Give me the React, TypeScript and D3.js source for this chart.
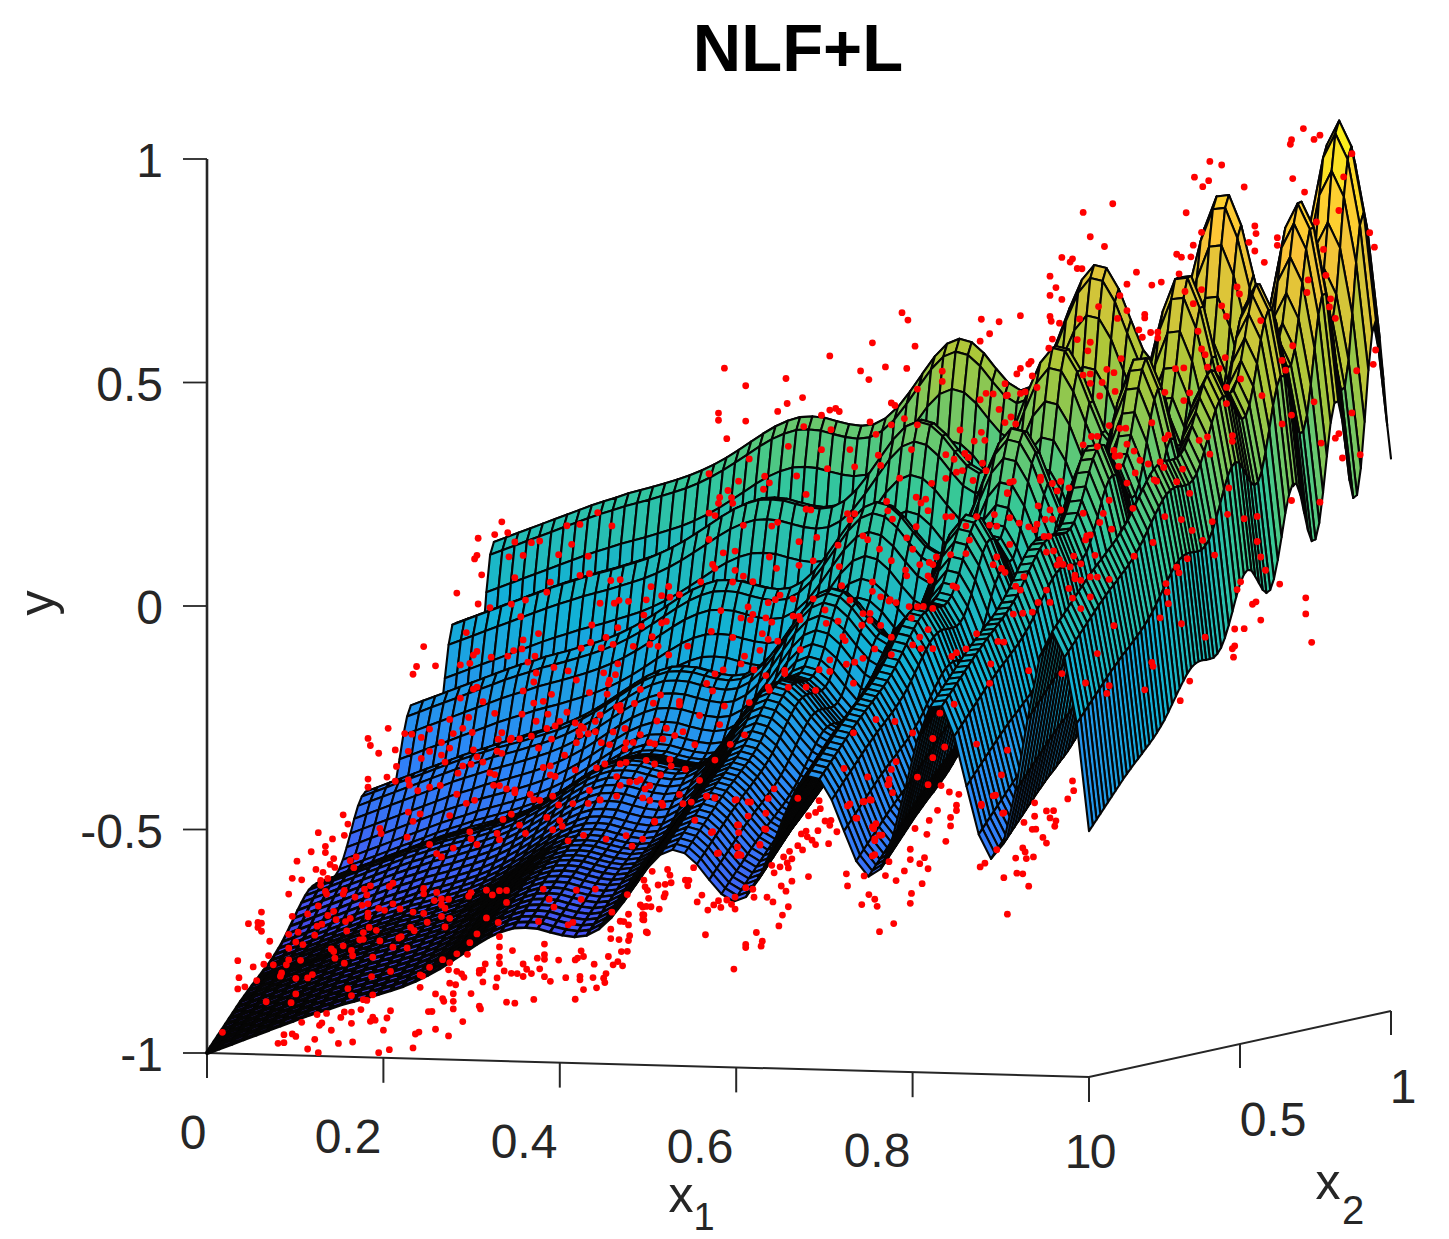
import React, { useEffect, useRef } from "react";
import * as d3 from "d3";

const width = 1449;
const height = 1239;

// Surface heights: read along the two front edges of the mesh (x2 = 0 and x1 = 0).
// The crests in the picture line up with the sum of both, so each mesh node is
// x1Profile[i] + x2Profile[j]. That is an approximation of the original surface.
const x1Profile = [
  0, 0.011, 0.022, 0.033, 0.044, 0.055, 0.066, 0.077, 0.088, 0.098, 0.107, 0.117, 0.125, 0.133, 0.142, 0.151,
  0.161, 0.173, 0.187, 0.203, 0.221, 0.24, 0.259, 0.276, 0.289, 0.298, 0.3, 0.298, 0.291, 0.285, 0.282, 0.286,
  0.301, 0.327, 0.363, 0.403, 0.442, 0.471, 0.483, 0.476, 0.452, 0.418, 0.387, 0.371, 0.382, 0.421, 0.485,
  0.558, 0.622, 0.656, 0.65, 0.604, 0.535, 0.469, 0.435, 0.453, 0.527, 0.634, 0.745, 0.817, 0.821, 0.754,
  0.643, 0.536, 0.482, 0.516, 0.636, 0.798, 0.939, 0.994, 0.937, 0.79, 0.55,
];
const x2Profile = [
  -1, -0.989, -0.978, -0.967, -0.956, -0.945, -0.934, -0.923, -0.912, -0.901, -0.891, -0.881, -0.871, -0.862,
  -0.853, -0.843, -0.834, -0.824, -0.813, -0.801, -0.788, -0.773, -0.757, -0.741, -0.725, -0.71, -0.696, -0.685,
  -0.678, -0.674, -0.673, -0.674, -0.674, -0.673, -0.666, -0.654, -0.634, -0.608, -0.579, -0.548, -0.521, -0.502,
  -0.493, -0.496, -0.511, -0.528, -0.545, -0.554, -0.549, -0.526, -0.486, -0.437, -0.385, -0.345, -0.322, -0.325,
  -0.351, -0.393, -0.434, -0.46, -0.458, -0.423, -0.357, -0.278, -0.205, -0.162, -0.16, -0.201, -0.269, -0.342,
  -0.384, -0.379, -0.321, -0.219, -0.106, -0.024, 0.003, -0.038, -0.133, -0.238, -0.314,
];

// Red samples as [t, y]. A flat picture gives no depth for them, so they are
// placed on the diagonal plane x1 = x2 = t of the box.
const dots: [number, number][] = [
  [.013,-.955],[.06,-.984],[.065,-.983],[.065,-.965],[.072,-.964],[.075,-.97],[.085,-.999],[.091,-.978],[.094,-1.008],[.095,-.947],[.097,-.942],[.105,-.959],[.111,-.989],[.123,-.987],[.113,-.931],[.116,-.919],[.122,-.92],[.122,-.945],[.13,-.915],[.093,-.923],[.101,-.921],[.08,-.939],[.138,-.942],[.14,-.933],[.142,-.94],[.149,-.963],[.152,-.936],[.155,-.92],[.145,-1.013],[.154,-1.007],[.174,-1.005],[.176,-.974],[.179,-.97],[.187,-.925],[.19,-.925],[.193,-.965],[.204,-.981],[.216,-.95],[.208,-.921],[.208,-.904],[.199,-.897],[.2,-.903],[.193,-.886],[.208,-.887],[.223,-.888],[.23,-.917],[.231,-.923],[.253,-.91],[.26,-.913],[.276,-.906],[.311,-.909],[.318,-.888],[.329,-.885],[.336,-.874],[.335,-.864],[.326,-.862],[.315,-.858],[.315,-.866],[.303,-.86],[.29,-.867],[.285,-.856],[.281,-.838],[.274,-.848],[.27,-.838],[.267,-.854],[.267,-.826],[.262,-.847],[.257,-.846],[.251,-.84],[.245,-.855],[.244,-.875],[.247,-.823],[.247,-.808],[.247,-.786],[.258,-.795],[.235,-.823],[.233,-.836],[.23,-.837],[.23,-.843],[.233,-.863],[.217,-.851],[.215,-.843],[.211,-.837],[.21,-.867],[.205,-.863],[.204,-.833],[.205,-.817],[.199,-.81],[.211,-.798],[.22,-.8],[.222,-.774],[.188,-.826],[.18,-.842],[.182,-.845],[.18,-.87],[.135,-.895],[.132,-.893],[.14,-.883],[.279,-.814],[.285,-.807],[.285,-.817],[.297,-.82],[.311,-.821],[.316,-.801],[.313,-.817],[.318,-.814],[.327,-.832],[.339,-.816],[.343,-.835],[.347,-.828],[.351,-.838],[.337,-.854],[.35,-.806],[.355,-.806],[.356,-.782],[.357,-.771],[.341,-.776],[.348,-.779],[.341,-.755],[.342,-.717],[.355,-.679],[.356,-.723],[.371,-.764],[.368,-.736],[.368,-.725],[.366,-.703],[.371,-.707],[.349,-.738],[.352,-.739],[.356,-.747],[.285,-.783],[.247,-.763],
  [.046,-.689],[.035,-.714],[.043,-.712],[.046,-.714],[.043,-.723],[.046,-.732],[.053,-.755],[.052,-.787],[.026,-.796],[.039,-.811],[.048,-.806],[.027,-.834],[.026,-.859],[.032,-.855],[.042,-.842],[.069,-.651],[.072,-.701],[.094,-.68],[.1,-.648],[.101,-.654],[.096,-.634],
  [.05,-.89],[.071,-.894],[.075,-.875],[.062,-.834],[.063,-.827],[.067,-.809],[.069,-.798],[.079,-.8],[.056,-.808],[.069,-.772],[.081,-.765],[.075,-.759],[.077,-.737],[.069,-.741],[.091,-.745],[.093,-.725],[.097,-.721],[.085,-.697],[.102,-.702],[.107,-.693],[.109,-.712],[.117,-.717],[.121,-.71],[.118,-.738],[.105,-.777],[.107,-.783],[.108,-.798],[.115,-.771],[.116,-.81],[.122,-.782],[.123,-.794],[.14,-.799],[.155,-.832],[.139,-.842],[.089,-.833],[.085,-.84],[.075,-.84],[.119,-.867],[.122,-.883],[.129,-.759],[.132,-.758],[.132,-.743],[.137,-.732],[.143,-.739],[.146,-.763],[.157,-.778],[.164,-.755],[.162,-.758],[.169,-.781],[.186,-.725],[.175,-.743],[.172,-.735],[.163,-.693],[.157,-.681],[.15,-.695],[.145,-.69],[.131,-.682],[.136,-.679],[.136,-.7],[.136,-.708],[.125,-.663],[.116,-.647],[.115,-.655],[.133,-.646],[.138,-.639],[.135,-.659],[.154,-.642],[.157,-.635],[.174,-.701],[.183,-.705],[.183,-.661],[.183,-.649],[.194,-.659],[.192,-.677],[.198,-.674],[.204,-.675],[.198,-.687],[.201,-.695],[.198,-.713],[.205,-.718],[.201,-.737],[.221,-.67],[.223,-.662],[.236,-.658],[.241,-.669],[.247,-.66],[.253,-.66],[.253,-.687],[.236,-.72],[.246,-.731],[.228,-.755],[.28,-.732],[.289,-.683],[.293,-.701],[.305,-.742],[.309,-.737],[.316,-.686],[.312,-.665],[.328,-.664],[.284,-.66],
  [.249,.165],[.229,.13],[.243,.137],[.254,.14],[.228,.092],[.226,.084],[.232,.048],[.211,.009],[.229,-.017],[.183,-.108],[.177,-.152],[.193,-.152],[.174,-.169],[.153,-.288],[.136,-.309],[.138,-.325],[.145,-.343],[.159,-.337],[.16,-.374],[.136,-.4],[.136,-.418],[.152,-.397],[.159,-.407],[.17,-.405],[.171,-.417],[.115,-.478],[.119,-.499],[.116,-.524],[.094,-.516],[.106,-.531],[.1,-.547],[.1,-.561],[.088,-.558],[.076,-.578],[.107,-.575],[.104,-.588],[.108,-.595],[.092,-.598],[.098,-.605],[.072,-.616],[.08,-.62],[.102,-.619],[.096,-.623],
  [.26,.119],[.274,.116],[.281,.119],[.304,.151],[.315,.153],[.33,.178],[.342,.147],[.308,.109],[.297,.087],[.322,.081],[.267,.088],[.255,.086],[.26,.039],[.29,.026],[.315,.039],[.323,.042],[.341,.025],[.349,.026],[.375,.008],[.39,.007],[.399,-.012],[.384,-.013],[.391,-.017],[.287,.004],[.269,-.012],[.257,-.02],[.239,-.026],[.265,-.049],[.332,-.025],[.344,-.026],[.348,-.02],[.356,-.023],[.371,-.021],[.369,-.055],[.28,-.088],[.219,-.08],[.325,-.073],[.347,-.081],[.367,-.08],[.384,-.074],[.388,-.071],[.376,-.104],[.337,-.102],[.316,-.124],[.343,-.118],[.333,-.125],[.324,-.112],[.267,-.101],[.266,-.121],[.259,-.124],[.228,-.123],[.225,-.131],[.24,-.137],[.254,-.136],[.277,-.138],[.36,-.124],[.374,-.121],[.381,-.126],[.39,-.146],[.406,-.128],[.271,-.151],[.293,-.165],[.305,-.174],[.278,-.176],[.335,-.181],[.347,-.162],[.345,-.186],[.34,-.198],[.339,-.206],[.312,-.195],[.276,-.196],[.214,-.152],[.222,-.149],[.228,-.203],[.225,-.207],[.214,-.226],[.267,-.215],[.291,-.225],[.284,-.24],[.323,-.224],[.338,-.229],[.346,-.258],[.349,-.266],[.377,-.253],[.361,-.252],[.399,-.251],[.276,-.243],[.233,-.236],[.221,-.27],[.205,-.273],[.243,-.263],[.266,-.267],[.288,-.269],[.304,-.266],[.278,-.284],[.311,-.291],[.328,-.289],[.316,-.299],[.298,-.286],[.294,-.296],[.287,-.301],[.343,-.314],[.353,-.307],[.36,-.339],[.354,-.339],[.38,-.293],[.388,-.31],[.402,-.319],[.318,-.303],[.314,-.311],[.224,-.304],[.216,-.294],[.208,-.305],[.188,-.293],[.181,-.311],[.167,-.301],[.173,-.303],[.249,-.307],[.246,-.321],[.264,-.322],[.274,-.317],[.256,-.323],[.291,-.325],[.28,-.344],[.312,-.335],[.328,-.312],[.333,-.337],[.322,-.316],[.385,-.334],[.395,-.327],[.374,-.341],[.17,-.341],[.181,-.358],[.188,-.343],[.198,-.324],[.205,-.337],[.225,-.343],[.245,-.348],[.249,-.353],[.257,-.32],[.284,-.388],[.29,-.385],[.294,-.409],[.228,-.359],[.233,-.371],[.198,-.352],[.201,-.368],[.239,-.396],[.216,-.378],[.212,-.394],[.223,-.375],[.178,-.43],[.188,-.423],[.197,-.42],[.211,-.441],[.219,-.462],[.247,-.425],[.242,-.424],[.253,-.433],[.26,-.442],[.276,-.459],[.273,-.447],[.292,-.453],[.309,-.471],[.322,-.472],[.329,-.393],[.336,-.385],[.349,-.386],[.354,-.383],[.371,-.38],[.378,-.389],[.392,-.395],[.363,-.427],[.37,-.444],[.374,-.437],[.357,-.427],[.346,-.414],[.332,-.465],[.346,-.458],[.368,-.464],[.384,-.477],[.378,-.517],[.368,-.556],[.354,-.547],[.337,-.553],[.359,-.571],[.305,-.554],[.297,-.473],[.287,-.5],[.292,-.528],[.3,-.521],[.318,-.543],[.269,-.534],[.25,-.501],[.245,-.532],[.257,-.49],[.222,-.526],[.223,-.542],[.228,-.555],[.198,-.58],[.194,-.572],[.208,-.561],[.188,-.551],[.169,-.533],[.18,-.482],[.17,-.477],[.174,-.498],[.146,-.511],[.147,-.523],[.126,-.573],[.121,-.581],[.124,-.597],
  [.376,-.629],[.389,-.626],[.391,-.639],[.392,-.656],[.387,-.659],[.381,-.66],[.369,-.648],[.37,-.663],[.372,-.671],[.373,-.689],[.368,-.708],[.375,-.708],[.382,-.714],[.386,-.687],[.387,-.68],[.369,-.726],[.369,-.737],[.372,-.766],[.404,-.651],[.407,-.652],[.406,-.664],[.418,-.686],[.414,-.701],[.423,-.72],[.428,-.709],[.432,-.7],[.434,-.715],[.439,-.699],[.443,-.709],[.446,-.72],[.446,-.693],[.455,-.673],[.461,-.677],[.462,-.695],[.473,-.696],[.478,-.707],[.491,-.719],[.486,-.737],[.483,-.761],[.464,-.774],[.469,-.794],[.468,-.805],[.455,-.8],[.455,-.807],[.421,-.775],[.445,-.854],[.489,-.684],[.485,-.672],[.494,-.662],[.479,-.642],[.477,-.625],[.484,-.629],[.491,-.632],[.49,-.621],[.487,-.607],[.494,-.612],[.492,-.595],[.503,-.593],[.499,-.583],[.508,-.653],[.514,-.582],[.511,-.572],[.507,-.564],[.502,-.557],[.506,-.551],[.516,-.551],[.525,-.581],[.532,-.555],[.526,-.54],[.522,-.53],[.527,-.529],[.514,-.51],[.508,-.517],[.518,-.502],[.517,-.484],[.54,-.65],[.541,-.677],[.555,-.656],[.559,-.698],[.564,-.709],[.553,-.72],[.566,-.725],[.573,-.657],[.582,-.669],[.576,-.626],[.589,-.648],[.594,-.623],[.594,-.6],[.602,-.633],[.606,-.62],[.609,-.645],[.604,-.678],[.595,-.699],[.594,-.721],[.58,-.765],[.568,-.782],[.624,-.585],[.608,-.568],[.61,-.537],[.598,-.554],[.617,-.515],[.628,-.551],[.628,-.532],[.633,-.505],[.633,-.517],[.62,-.46],[.627,-.475],[.635,-.481],[.653,-.645],[.657,-.637],[.667,-.608],[.673,-.671],[.684,-.662],[.689,-.664],[.694,-.692],[.676,-.753],[.683,-.628],[.692,-.63],[.689,-.606],[.691,-.615],[.698,-.627],[.706,-.584],[.709,-.597],[.697,-.565],[.7,-.565],[.69,-.549],[.699,-.536],[.709,-.525],[.715,-.525],[.712,-.541],[.717,-.548],[.716,-.56],[.699,-.506],[.727,-.5],[.732,-.482],[.731,-.46],
  [.412,-.518],[.427,-.545],[.432,-.593],[.448,-.581],[.449,-.597],[.451,-.6],[.449,-.549],[.449,-.532],[.457,-.513],[.472,-.508],[.474,-.475],[.459,-.482],[.447,-.475],[.429,-.469],[.422,-.465],[.409,-.477],[.402,-.48],[.385,-.482],[.378,-.519],[.411,-.624],[.472,-.544],[.467,-.579],[.543,-.494],[.555,-.49],[.561,-.487],[.549,-.526],[.565,-.54],[.563,-.551],[.564,-.574],[.57,-.566],[.564,-.609],[.576,-.453],[.579,-.472],[.654,-.505],[.666,-.486],[.673,-.526],
  [.437,.491],[.455,.45],[.489,.463],[.503,.419],[.49,.407],[.482,.39],[.432,.391],[.432,.375],[.455,.371],[.439,.333],[.526,.51],[.552,.474],[.559,.454],[.573,.481],[.591,.476],[.562,.536],[.587,.601],[.592,.584],[.654,.58],[.669,.573],[.687,.585],[.661,.547],[.653,.531],[.598,.525],[.519,.378],[.526,.389],[.531,.392],[.534,.385],[.527,.345],[.504,.354],[.491,.311],[.424,.256],[.458,.286],[.519,.301],[.543,.299],[.524,.258],[.547,.26],[.449,.237],[.471,.246],[.475,.231],[.498,.244],[.506,.202],[.47,.217],[.44,.217],[.433,.202],[.432,.189],[.443,.201],[.444,.188],[.424,.168],[.429,.162],[.506,.169],[.51,.167],[.482,.142],[.453,.138],[.477,.134],[.541,.156],[.547,.155],[.543,.142],[.56,.359],[.565,.331],[.578,.4],[.581,.394],[.578,.351],[.6,.349],[.589,.364],[.567,.284],[.569,.261],[.585,.231],[.595,.294],[.599,.187],[.607,.182],[.603,.174],[.612,.217],[.624,.28],[.624,.227],[.631,.269],[.64,.281],[.643,.272],[.636,.334],[.621,.467],[.621,.444],[.6,.429],[.653,.4],[.658,.414],[.664,.412],[.675,.407],[.669,.377],[.679,.359],[.674,.347],[.683,.343],[.654,.327],[.648,.308],[.657,.309],
  [.575,.159],[.574,.18],[.579,.14],[.599,.121],[.609,.156],[.596,.071],[.591,.097],[.568,.074],[.578,.047],[.602,.036],[.61,.04],[.616,.052],[.624,.141],[.629,.141],[.641,.119],[.65,.139],[.665,.142],[.667,.116],[.678,.213],[.676,.188],[.655,.258],[.658,.241],[.633,.24],[.638,.243],[.647,.22],[.674,.012],[.671,.021],[.667,.047],[.664,.03],[.641,.057],[.63,-.014],[.633,-.018],[.613,.035],[.609,.01],[.591,.012],[.6,-.058],[.593,-.057],[.605,-.058],[.613,-.063],[.609,-.11],[.602,-.126],[.595,-.083],[.582,-.047],[.576,-.043],[.569,-.033],[.562,-.02],[.536,-.005],[.562,.001],[.512,.053],[.5,.044],[.481,.039],[.475,.065],[.453,.024],[.446,.038],[.444,.012],[.461,.011],[.436,.078],[.446,.081],[.424,.109],[.429,.044],[.417,.015],[.427,.053],[.5,.097],[.515,.105],[.533,.086],[.554,.105],[.558,.096],[.534,.038],[.512,-.032],[.495,-.031],[.484,-.021],[.474,-.037],[.472,-.071],[.477,-.081],[.461,-.062],[.457,-.045],[.451,-.069],[.469,-.106],[.474,-.119],[.444,-.112],[.482,-.124],[.495,-.069],[.5,-.07],[.426,-.097],[.434,-.051],[.523,-.088],[.533,-.084],[.537,-.119],[.554,-.069],[.553,-.095],[.56,-.069],[.578,-.124],[.569,-.097],[.454,-.155],[.451,-.172],[.436,-.184],[.429,-.192],[.462,-.186],[.472,-.2],[.488,-.197],[.517,-.191],[.526,-.196],[.506,-.229],[.491,-.228],[.474,-.226],[.458,-.259],[.437,-.265],[.427,-.23],[.422,-.213],[.546,-.224],[.54,-.181],[.547,-.177],[.554,-.169],[.564,-.149],[.578,-.163],[.596,-.143],[.603,-.152],[.613,-.153],[.629,-.172],[.633,-.164],[.641,-.156],[.65,-.123],[.668,-.142],[.661,-.235],[.662,-.192],[.631,-.279],[.65,-.37],[.676,-.386],[.671,-.441],[.654,-.508],[.664,-.487],[.672,-.527],
  [.546,-.335],[.538,-.414],[.558,-.435],[.578,-.42],[.582,-.403],[.576,-.442],[.575,-.454],[.619,-.298],[.623,-.374],[.613,-.354],[.609,-.457],[.6,-.439],[.613,-.397],[.596,-.34],[.565,-.307],[.581,-.313],[.541,-.498],[.548,-.526],[.554,-.49],[.56,-.486],[.562,-.547],[.562,-.612],[.564,-.578],[.568,-.566],[.499,-.477],[.467,-.577],[.448,-.6],[.431,-.594],[.426,-.547],[.471,-.543],[.457,-.481],[.446,-.476],[.422,-.465],[.429,-.47],[.479,-.454],[.448,-.532],
  [.926,.981],[.94,.965],[.935,.956],[.916,.957],[.915,.947],[.917,.87],[.927,.839],[.967,.921],[.96,.87],[.956,.795],[.937,.771],[.847,.915],[.857,.906],[.834,.881],[.846,.872],[.841,.859],[.876,.855],[.827,.802],[.74,.811],[.765,.828],[.746,.756],[.758,.733],[.885,.767],[.886,.75],[.84,.757],[.833,.729],[.88,.731],[.885,.711],[.904,.739],[.904,.722],[.893,.685],[.982,.743],[.986,.71],[.943,.709],[.819,.71],[.823,.703],[.831,.703],[.722,.712],[.731,.708],[.729,.701],[.735,.686],[.739,.685],[.712,.671],[.785,.673],[.806,.649],[.798,.643],[.777,.647],[.717,.645],[.712,.628],[.722,.618],[.821,.666],[.826,.626],[.833,.598],[.84,.629],[.87,.632],[.872,.616],[.93,.642],[.929,.614],[.945,.651],[.949,.598],[.948,.58],[.953,.554],[.857,.591],[.861,.567],[.89,.555],[.771,.622],[.753,.599],[.737,.573],[.777,.588],[.769,.571],[.712,.581],[.713,.57],[.72,.565],[.792,.578],[.792,.57],[.837,.536],[.797,.537],[.803,.537],[.803,.524],[.787,.544],[.79,.527],[.714,.53],[.711,.51],[.735,.527],[.746,.52],[.744,.501],[.772,.481],[.76,.458],[.766,.45],[.74,.447],[.746,.449],[.756,.429],[.746,.428],[.767,.408],[.754,.399],[.696,.482],[.687,.467],[.694,.476],[.684,.455],[.697,.449],[.701,.423],[.687,.411],[.691,.414],[.674,.434],[.676,.408],
  [.84,.496],[.843,.483],[.86,.475],[.855,.451],[.845,.455],[.825,.455],[.818,.454],[.809,.402],[.825,.382],[.83,.399],[.861,.408],[.873,.426],[.861,.372],[.891,.387],[.917,.496],[.908,.464],[.911,.442],[.987,.48],[.985,.448],[.971,.435],[.967,.341],[.935,.369],[.916,.341],[.908,.322],[.953,.286],[.956,.296],[.959,.241],[.974,.247],[.941,.276],[.916,.15],[.94,.144],[.866,.3],[.866,.287],[.847,.26],[.838,.292],[.845,.299],[.876,.113],[.887,.117],[.863,.183],[.862,.124],[.849,.109],[.841,.068],[.851,.034],[.828,.028],[.894,-.004],[.89,.026],[.887,.061],[.906,-.036],[.928,-.069],[.928,-.105],[.933,-.169],[.89,-.115],[.886,-.074],[.883,-.079],[.868,-.133],[.876,-.133],[.868,-.171],[.866,-.177],[.867,-.196],[.87,-.045],[.873,-.028],[.83,-.246],[.822,-.289],[.81,-.026],[.811,-.045],[.812,-.071],[.805,-.102],[.823,-.117],[.843,-.149],[.799,.067],[.783,.038],[.819,.01],[.821,-.003],[.832,.091],[.823,.116],[.809,.124],[.782,.145],[.762,-.012],[.766,-.116],[.752,-.177],[.798,-.201],[.799,-.21],[.742,-.242],[.762,-.25],[.76,-.267],[.792,-.262],[.694,-.21],[.722,-.219],[.673,-.144],[.746,-.05],[.738,-.075],[.731,-.051],[.728,-.029],[.733,-.008],[.738,-.012],[.746,-.005],[.752,-.006],[.709,-.031],[.702,-.058],[.712,-.059],[.697,-.079],[.689,-.081],[.681,-.082],[.687,-.029],[.683,-.02],[.69,.001],[.718,.024],[.729,.019],[.738,.025],[.75,.043],[.732,.043],[.766,.276],[.767,.263],[.771,.264],[.8,.207],[.802,.204],[.819,.201],[.83,.174],[.784,.224],[.777,.202],[.754,.116],[.746,.089],[.743,.087],[.74,.138],[.764,.1],[.723,.025],[.709,.054],[.715,.056],[.702,.158],[.678,.134],[.686,.121],[.694,.112],[.701,.117],[.708,.127],[.714,.127],[.707,.089],[.711,.089],[.721,.147],[.718,.19],[.714,.207],[.721,.211],[.728,.196],[.704,.222],[.681,.215],[.676,.19],[.74,.291],[.752,.286],[.747,.309],[.752,.309],[.762,.332],[.776,.325],[.771,.325],[.798,.335],[.812,.306],[.809,.298],[.805,.247],[.808,.234],[.795,.243],[.788,.252],[.783,.273],[.77,.24],[.762,.165],[.757,.136],[.777,.289],[.824,.229],
  [.34,-.342],[.353,-.353],[.366,-.322],[.378,-.344],[.391,-.38],[.404,-.403],[.412,-.349],[.383,-.414],[.366,-.423],[.349,-.434],[.332,-.465],[.374,-.47],[.399,-.459],[.416,-.429],[.429,-.385],[.442,-.351],[.454,-.331],[.433,-.306],[.416,-.284],[.399,-.259],[.383,-.235],[.366,-.221],[.349,-.255],[.332,-.275],[.315,-.318],[.302,-.362],[.29,-.405],[.311,-.396],[.323,-.443],[.281,-.461],[.26,-.436],[.243,-.4],[.226,-.456],[.205,-.488],[.264,-.515],[.247,-.546],[.298,-.508],
  [.475,-.233],[.488,-.19],[.501,-.145],[.514,-.237],[.526,-.17],[.539,-.128],[.467,-.143],[.459,-.074],[.48,-.031],[.501,-.078],[.522,-.058],[.543,-.038],[.56,-.085],[.577,-.04],[.59,.025],[.611,0],[.628,.056],[.644,.087],[.661,.119],[.678,.074],[.699,.105],[.712,.148],[.704,.215],[.72,.036],[.733,0],[.742,.078],
];

const yTicks = [-1, -0.5, 0, 0.5, 1];
const x1Ticks = [0, 0.2, 0.4, 0.6, 0.8, 1];
const x2Ticks = [0, 0.5, 1];
const parula = ["#3e26a8", "#4752f4", "#2d87f7", "#12b1d6", "#37c897", "#abc739", "#fec338", "#f9fb15"];

const ink = "#262626";
const font = "'Liberation Sans', Arial, sans-serif";

// oblique axes of the MATLAB view
const x1Across = d3.scaleLinear().domain([0, 1]).range([0, 882]);
const x1Drop = d3.scaleLinear().domain([0, 1]).range([0, 24]);
const x2Across = d3.scaleLinear().domain([0, 1]).range([0, 302]);
const x2Rise = d3.scaleLinear().domain([0, 1]).range([0, 66]);
const yScale = d3.scaleLinear().domain([-1, 1]).range([1053, 159]);
const color = d3.scaleLinear<string>()
  .domain(parula.map((_, i) => -1 + (2.03 * i) / (parula.length - 1)))
  .range(parula);

const project = (x1: number, x2: number, y: number): [number, number] => [
  207 + x1Across(x1) + x2Across(x2),
  yScale(y) + x1Drop(x1) - x2Rise(x2),
];

const App = () => {
  const svgRef = useRef<SVGSVGElement>(null);

  useEffect(() => {
    const svg = d3.select(svgRef.current);
    svg.selectAll("*").remove();

    // axes first, the surface covers them
    const axes = svg.append("g").attr("fill", "none").attr("stroke", ink);
    axes.append("path").attr("stroke-width", 2.6)
      .attr("d", `M${project(0, 0, 1)}L${project(0, 0, -1)}`);
    axes.append("path").attr("stroke-width", 2)
      .attr("d", `M${project(0, 0, -1)}L${project(1, 0, -1)}L${project(1, 1, -1)}`);
    yTicks.forEach((t) => {
      const [x, y] = project(0, 0, t);
      axes.append("line").attr("x1", x - 24).attr("x2", x).attr("y1", y).attr("y2", y).attr("stroke-width", 1.8);
    });
    x1Ticks.forEach((t) => {
      const [x, y] = project(t, 0, -1);
      axes.append("line").attr("x1", x).attr("x2", x).attr("y1", y).attr("y2", y + 25).attr("stroke-width", 2);
    });
    x2Ticks.forEach((t) => {
      const [x, y] = project(1, t, -1);
      axes.append("line").attr("x1", x).attr("x2", x).attr("y1", y).attr("y2", y + 24).attr("stroke-width", 2);
    });

    const text = (s: string, x: number, y: number, size: number, anchor = "middle") =>
      svg.append("text").attr("x", x).attr("y", y).attr("font-size", size).attr("font-family", font)
        .attr("fill", ink).attr("text-anchor", anchor).text(s);

    yTicks.forEach((t) => text(String(t), 163, yScale(t) + 18, 48, "end"));
    const x1LabelBase = [1149, 1153, 1158, 1163, 1167, 1168];
    const x1LabelX = [193, 348, 524, 700, 877, 1078];
    x1Ticks.forEach((t, i) => text(String(t), x1LabelX[i], x1LabelBase[i], 48));
    text("0", 1103, 1168, 48);
    text("0.5", 1273, 1136, 48);
    text("1", 1403, 1103, 48);
    text("x", 681, 1212, 50);
    text("1", 704, 1230, 38);
    text("x", 1328, 1199, 50);
    text("2", 1353, 1224, 40);
    text("y", 0, 0, 50).attr("transform", "translate(54,603) rotate(-90)");
    text("NLF+L", 798, 71, 67).attr("font-weight", "bold").attr("fill", "#000");

    // painter's order: far row first, left to right
    const cells: { d: string; h: number; w: number }[] = [];
    const n1 = x1Profile.length - 1;
    const n2 = x2Profile.length - 1;
    const nodeY = (i: number, j: number) => x1Profile[i] + x2Profile[j];
    const corner = (i: number, j: number) => project(i / n1, j / n2, nodeY(i, j));
    const line = d3.line().curve(d3.curveLinearClosed);
    // the low corner of the original mesh is much tighter, it reads as nearly black
    const tightX1 = d3.scaleLinear().domain([0, 0.5]).range([1, 0]).clamp(true);
    const tightX2 = d3.scaleLinear().domain([0, 0.38]).range([1, 0]).clamp(true);
    for (let j = n2 - 1; j >= 0; j--) {
      for (let i = 0; i < n1; i++) {
        cells.push({
          d: line([corner(i, j), corner(i + 1, j), corner(i + 1, j + 1), corner(i, j + 1)]) as string,
          h: (nodeY(i, j) + nodeY(i + 1, j) + nodeY(i + 1, j + 1) + nodeY(i, j + 1)) / 4,
          w: 2.1 + 2 * tightX1(i / n1) * tightX2(j / n2),
        });
      }
    }
    svg.append("g").attr("stroke", "#050505").attr("stroke-linejoin", "round")
      .selectAll("path").data(cells).enter().append("path")
      .attr("d", (c) => c.d)
      .attr("stroke-width", (c) => c.w)
      .attr("fill", (c) => color(c.h));

    svg.append("g").attr("fill", "#ff0000")
      .selectAll("circle").data(dots).enter().append("circle")
      .attr("cx", (d) => project(d[0], d[0], d[1])[0])
      .attr("cy", (d) => project(d[0], d[0], d[1])[1])
      .attr("r", 3.4);
  }, []);

  return <svg ref={svgRef} width={width} height={height} style={{ position: "absolute", left: 0, top: 0 }} />;
};

export default App;
